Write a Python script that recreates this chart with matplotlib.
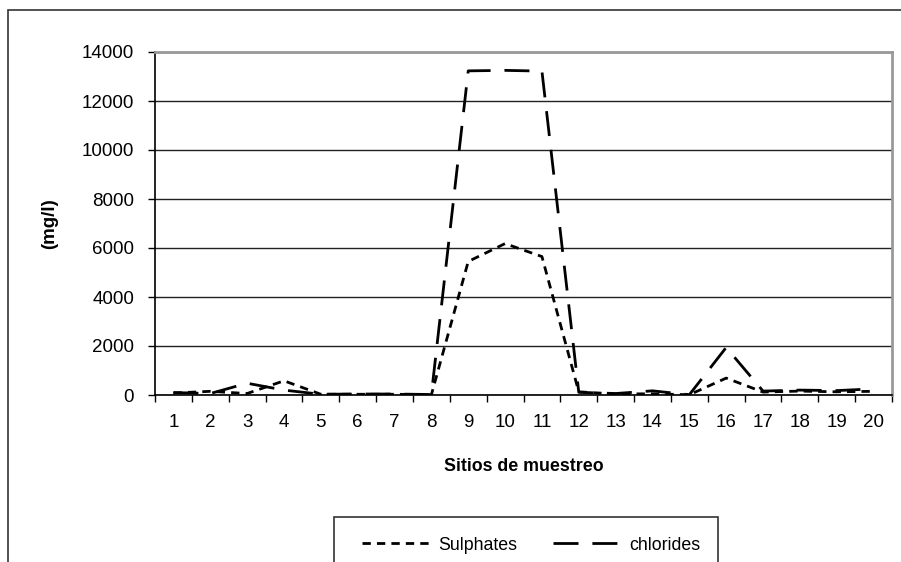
import numpy as np
import matplotlib
matplotlib.use('Agg')
import matplotlib.pyplot as plt
from matplotlib.patches import Rectangle

plt.rcParams['font.family'] = ['Liberation Sans', 'DejaVu Sans']

sites = list(range(1, 21))
sulphates = [80, 150, 60, 580, 30, 30, 30, 10, 5450, 6180, 5650, 130,
             40, 50, 10, 690, 120, 160, 130, 150]
chlorides = [100, 60, 480, 200, 30, 40, 40, 20, 13230, 13250, 13220, 110,
             60, 170, 10, 1940, 160, 200, 180, 250]

fig = plt.figure(figsize=(9.01, 5.62), dpi=100)
ax = fig.add_axes([155/901, 1-395/562, (892-155)/901, (395-52)/562])

# outer chart frame (cut off on the right and bottom)
fig.patches.append(Rectangle((8/901, -0.1), 1.2, 1-10/562+0.1, transform=fig.transFigure,
                             fill=False, edgecolor='#333333', lw=1.2))

ax.plot(sites, sulphates, color='black', lw=2, dashes=(3, 2.2), label='Sulphates')
ax.plot(sites, chlorides, color='black', lw=2, dashes=(9, 5), label='chlorides')

ax.set_xlim(0.5, 20.5)
ax.set_ylim(0, 14000)
ax.set_yticks(np.arange(0, 14001, 2000))
ax.yaxis.grid(True, color='#222222', lw=1)
ax.set_axisbelow(True)

ax.set_xticks(sites)
ax.set_xticklabels([str(s) for s in sites])
ax.set_xticks(np.arange(0.5, 21, 1), minor=True)
ax.tick_params(axis='x', which='major', length=0, pad=14, labelsize=13.5)
ax.tick_params(axis='x', which='minor', length=5, width=1, direction='out')
ax.tick_params(axis='y', length=5, width=1, pad=10, labelsize=13.5)

for s in ['top', 'right']:
    ax.spines[s].set_color('#999999')
    ax.spines[s].set_linewidth(2)
for s in ['left', 'bottom']:
    ax.spines[s].set_color('black')
    ax.spines[s].set_linewidth(1.2)

ax.set_xlabel('Sitios de muestreo', fontsize=12.8, fontweight='bold', labelpad=19)
ax.set_ylabel('(mg/l)', fontsize=13.5, fontweight='bold', labelpad=17)

# legend box
fig.patches.append(Rectangle((334/901, -0.1), (718-334)/901, 1-517/562+0.1,
                             transform=fig.transFigure, fill=False,
                             edgecolor='#333333', lw=1.2))
handles, labels = ax.get_legend_handles_labels()
fig.legend(handles, labels, loc='center', bbox_to_anchor=(531/901, 1-545/562),
           frameon=False, ncol=2, fontsize=12.8, handlelength=3.9, columnspacing=2.0,
           handletextpad=0.4)

fig.savefig('out.png', dpi=100)
